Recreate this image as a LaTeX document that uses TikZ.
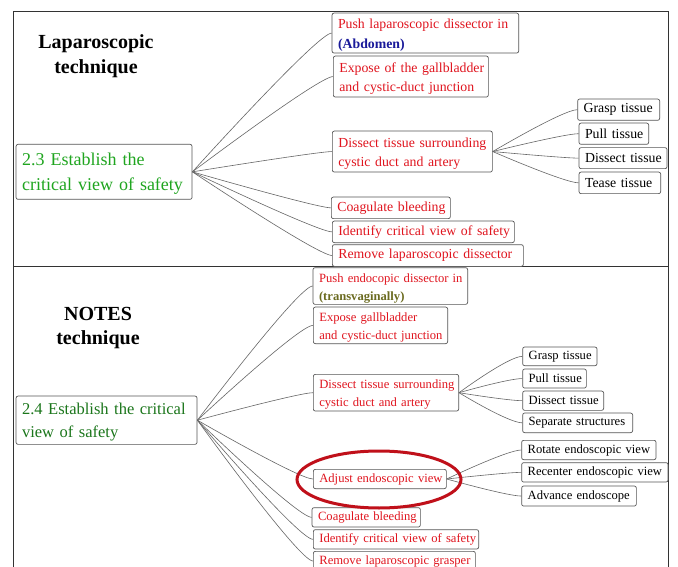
\documentclass[tikz,border=0pt]{standalone}
\usepackage{fontspec}
\setmainfont{Liberation Serif}
\usetikzlibrary{calc}
\definecolor{txtred}{HTML}{E0141E}
\definecolor{grnA}{HTML}{1FA51F}
\definecolor{grnB}{HTML}{1B761B}
\definecolor{abdblue}{HTML}{1A1A9A}
\definecolor{olive}{HTML}{6B6B20}
\definecolor{boxgray}{HTML}{555555}
\definecolor{linegray}{HTML}{666666}
\definecolor{ellred}{HTML}{C0101A}
\hfuzz=100pt
\tikzset{
  bx/.style={draw=boxgray, rounded corners=2pt, line width=0.7pt, anchor=north west,
    align=left, inner xsep=6pt, inner ysep=0pt, fill=white},
  fA/.style={font=\fontsize{13.8}{19.5}\selectfont},
  fB/.style={font=\fontsize{12.6}{18}\selectfont},
  conn/.style={draw=linegray, line width=0.6pt},
  ttl/.style={align=center, font=\fontsize{20}{24.5}\selectfont\bfseries}
}
\newcommand{\tline}[1]{\mbox{#1}}
\newcommand{\tfirst}[1]{\mbox{\rule{0pt}{\dimexpr0.7em+4pt\relax}#1}}
\newcommand{\lnk}[2]{\draw[conn] (#1.east) .. controls (#1.east) and ($(#2.west)+(-14,0)$) .. (#2.west);}
\begin{document}
\begin{tikzpicture}[x=1pt,y=-1pt]
\clip (0,0) rectangle (678,567);
\fill[white] (0,0) rectangle (678,567);
% frame
\draw[line width=0.8pt, black!80] (13,580) -- (13,11) -- (668,11) -- (668,580);
\draw[line width=0.8pt, black!80] (13,266.5) -- (668,266.5);

% ---------- top panel ----------
\node[ttl] (t1) at (96,56) {Laparoscopic\\technique};
\node[bx, text width=164pt, minimum height=55pt, text=grnA, font=\fontsize{18}{25}\selectfont] (m1) at (15.7,144) {\tfirst{2.3 Establish the}\\\tline{critical view of safety}};

\node[bx, fA, text=txtred, text width=174.6pt, minimum height=40pt] (c1) at (331.7,12.7) {\tfirst{Push laparoscopic dissector in}\\\tline{\textbf{\color{abdblue}(Abdomen)}}};
\node[bx, fA, text=txtred, text width=143pt, minimum height=41pt] (c2) at (333,55.7) {\tfirst{Expose of the gallbladder}\\\tline{and cystic-duct junction}};
\node[bx, fA, text=txtred, text width=148pt, minimum height=41pt] (c3) at (332,130.7) {\tfirst{Dissect tissue surrounding}\\\tline{cystic duct and artery}};
\node[bx, fA, text=txtred, text width=107pt, minimum height=21.6pt] (c4) at (331,196.7) {\tline{Coagulate bleeding}};
\node[bx, fA, text=txtred, text width=170pt, minimum height=21.6pt] (c5) at (332,220.7) {\tline{Identify critical view of safety}};
\node[bx, fA, text=txtred, text width=179pt, minimum height=21.7pt] (c6) at (332,244.3) {\tline{Remove laparoscopic dissector}};

\node[bx, fA, text width=70pt, minimum height=21.3pt] (g1) at (577.3,98.7) {\tline{Grasp tissue}};
\node[bx, fA, text width=57.6pt, minimum height=21.3pt] (g2) at (578.7,122.7) {\tline{Pull tissue}};
\node[bx, fA, text width=76pt, minimum height=21pt] (g3) at (578.7,147.3) {\tline{Dissect tissue}};
\node[bx, fA, text width=69.6pt, minimum height=21.6pt] (g4) at (578.7,171.7) {\tline{Tease tissue}};

\foreach \c in {c1,c2,c3,c4,c5,c6} {\lnk{m1}{\c}}
\foreach \g in {g1,g2,g3,g4} {\lnk{c3}{\g}}

% ---------- bottom panel ----------
\node[ttl] (t2) at (98,328) {NOTES\\technique};
\node[bx, text width=169pt, minimum height=48.3pt, text=grnB, font=\fontsize{16.5}{23}\selectfont] (m2) at (15.7,395.7) {\tfirst{2.4 Establish the critical}\\\tline{view of safety}};

\node[bx, fB, text=txtred, text width=142.6pt, minimum height=36.7pt] (d1) at (312.7,267.3) {\tfirst{Push endocopic dissector in}\\\tline{\textbf{\color{olive}(transvaginally)}}};
\node[bx, fB, text=txtred, text width=122.3pt, minimum height=36.6pt] (d2) at (313,306.7) {\tfirst{Expose gallbladder}\\\tline{and cystic-duct junction}};
\node[bx, fB, text=txtred, text width=133.3pt, minimum height=36.7pt] (d3) at (313,374) {\tfirst{Dissect tissue surrounding}\\\tline{cystic duct and artery}};
\node[bx, fB, text=txtred, text width=121pt, minimum height=19.3pt] (d4) at (313,469) {\tline{Adjust endoscopic view}};
\node[bx, fB, text=txtred, text width=96.3pt, minimum height=19.4pt] (d5) at (311.7,507.3) {\tline{Coagulate bleeding}};
\node[bx, fB, text=txtred, text width=153.3pt, minimum height=19.4pt] (d6) at (313,529.3) {\tline{Identify critical view of safety}};
\node[bx, fB, text=txtred, text width=150pt, minimum height=19.4pt] (d7) at (313,551) {\tline{Remove laparoscopic grasper}};

\node[bx, fB, text width=62.4pt, minimum height=18.6pt] (e1) at (522.3,346.7) {\tline{Grasp tissue}};
\node[bx, fB, text width=51.7pt, minimum height=19pt] (e2) at (522.3,368.7) {\tline{Pull tissue}};
\node[bx, fB, text width=69pt, minimum height=19.3pt] (e3) at (522.3,390.7) {\tline{Dissect tissue}};
\node[bx, fB, text width=98pt, minimum height=19.6pt] (e4) at (522.3,412.7) {\tline{Separate structures}};

\node[bx, fB, text width=122.4pt, minimum height=19.3pt] (f1) at (521.3,440) {\tline{Rotate endoscopic view}};
\node[bx, fB, text width=134.4pt, minimum height=19.4pt] (f2) at (521.3,462.3) {\tline{Recenter endoscopic view}};
\node[bx, fB, text width=102.7pt, minimum height=20pt] (f3) at (521.3,485.7) {\tline{Advance endoscope}};

\foreach \d in {d1,d2,d3,d4,d5,d6,d7} {\lnk{m2}{\d}}
\foreach \e in {e1,e2,e3,e4} {\lnk{d3}{\e}}
\foreach \f in {f1,f2,f3} {\lnk{d4}{\f}}

\draw[ellred, line width=3pt] (379,479.5) ellipse [x radius=82, y radius=28.5];
\end{tikzpicture}
\end{document}
